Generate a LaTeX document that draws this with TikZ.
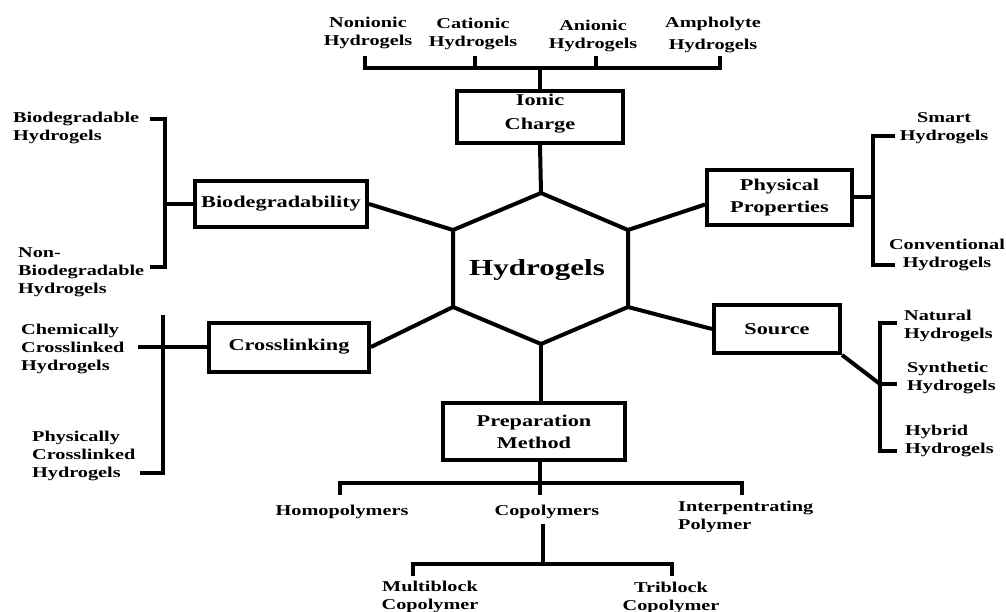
\documentclass[tikz,border=0pt]{standalone}
\usepackage{fontspec}
\setmainfont{Liberation Serif}[FakeStretch=1.35]
\usetikzlibrary{calc}
\newcommand\lblf{\fontsize{15}{18}\selectfont\bfseries}
\newcommand\boxf{\fontsize{16.5}{22}\selectfont\bfseries}
\newcommand\hexf{\fontsize{23}{26}\selectfont\bfseries}
\begin{document}
\begin{tikzpicture}[x=1pt,y=-1pt,
  lbl/.style={font=\lblf,align=center,inner sep=0pt},
  lbll/.style={font=\lblf,align=left,inner sep=0pt,anchor=west},
  catbox/.style={draw,line width=4pt,font=\boxf,align=center,inner sep=0pt},
  conn/.style={line width=4pt,line join=miter},
]
\useasboundingbox[fill=white] (0,0) rectangle (1006,612);

% category boxes
\node[catbox,minimum width=166pt,minimum height=52pt] (ic) at (540,117) {};
\node[lbl,font=\boxf] (icT) at (540,113.5) {Ionic\\[2pt]Charge};
\node[catbox,minimum width=172pt,minimum height=46pt] (bd) at (281,204) {Biodegradability};
\node[catbox,minimum width=160pt,minimum height=49pt] (cl) at (289,347) {Crosslinking};
\node[catbox,minimum width=145pt,minimum height=55pt] (pp) at (779.5,197.5) {Physical\\Properties};
\node[catbox,minimum width=126pt,minimum height=48pt] (sr) at (777,329) {Source};
\node[catbox,minimum width=182pt,minimum height=57pt] (pm) at (534,431.5) {Preparation\\Method};

% hexagon
\coordinate (hT) at (541,193);
\coordinate (hUR) at (628,230);
\coordinate (hLR) at (628,307);
\coordinate (hB) at (541,344);
\coordinate (hLL) at (453,307);
\coordinate (hUL) at (453,230);
\draw[conn] (hT) -- (hUR) -- (hLR) -- (hB) -- (hLL) -- (hUL) -- cycle;
\node[font=\hexf,inner sep=0pt] (hy) at (537,270) {Hydrogels};

% top labels
\node[lbl] (non) at (368,33) {Nonionic\\Hydrogels};
\node[lbl] (cat) at (473,34) {Cationic\\Hydrogels};
\node[lbl] (ani) at (593,35.5) {Anionic\\Hydrogels};
\node[lbl] (amp) at (713,34.5) {Ampholyte\\[4pt]Hydrogels};

% left labels
\node[lbll] (bdh) at (13,127.5) {Biodegradable\\Hydrogels};
\node[lbll] (nbd) at (18,272.5) {Non-\\Biodegradable\\Hydrogels};
\node[lbll] (chx) at (21,348.5) {Chemically\\Crosslinked\\Hydrogels};
\node[lbll] (phx) at (32,456) {Physically\\Crosslinked\\Hydrogels};

% right labels
\node[lbl] (sm) at (944,128.5) {Smart\\Hydrogels};
\node[lbl] (cv) at (947,254.5) {Conventional\\Hydrogels};
\node[lbll] (nat) at (904,326) {Natural\\Hydrogels};
\node[lbll] (syn) at (907,377.5) {Synthetic\\Hydrogels};
\node[lbll] (hyb) at (905,440.5) {Hybrid\\Hydrogels};

% bottom labels
\node[lbl] (homo) at (342,511.5) {Homopolymers};
\node[lbl] (copo) at (547,511.5) {Copolymers};
\node[lbll] (ipn) at (678,517) {Interpentrating\\Polymer};
\node[lbl] (mb) at (430,597) {Multiblock\\Copolymer};
\node[lbl] (tb) at (671,597.5) {Triblock\\Copolymer};

% --- connectors ---
% ionic charge
\coordinate (tbus) at (540,68);
\draw[conn] (ic.north) -- (tbus);
\draw[conn] (365,56) -- (365,68) -- (720,68) -- (720,56);
\draw[conn] (475,56) -- (475,68);
\draw[conn] (596,56) -- (596,68);
\draw[conn] (ic.south) -- (hT);

% biodegradability
\draw[conn] (bd.east) -- (hUL);
\coordinate (bdv) at (165,204);
\draw[conn] (bd.west) -- (bdv);
\draw[conn] (150,119) -- (165,119) -- (165,267) -- (150,267);

% crosslinking
\draw[conn] (cl.east) -- (hLL);
\coordinate (clend) at (138,347);
\draw[conn] (cl.west) -- (clend);
\draw[conn] (163,315) -- (163,473) -- (140,473);

% physical properties
\draw[conn] (hUR) -- ($(pp.west)+(0,7)$);
\coordinate (ppv) at (873,197.5);
\draw[conn] (pp.east) -- (ppv);
\draw[conn] (895,136) -- (873,136) -- (873,265) -- (895,265);

% source
\draw[conn] (hLR) -- (sr.west);
\coordinate (srv) at (880,384);
\draw[conn] (sr.south east) -- (srv);
\draw[conn] (897,323) -- (880,323) -- (880,451) -- (897,451);
\draw[conn] (srv) -- (897,384);

% preparation method
\draw[conn] (hB) -- (hB |- pm.north);
\coordinate (pstem) at (540,495);
\draw[conn] (pstem |- pm.south) -- (pstem);
\draw[conn] (340,495) -- (340,483) -- (742,483) -- (742,495);

% copolymers
\coordinate (cstem) at (543,524);
\coordinate (cbus) at (543,564);
\draw[conn] (cstem) -- (cbus);
\draw[conn] (413,576) -- (413,564) -- (672,564) -- (672,576);
\end{tikzpicture}
\end{document}
